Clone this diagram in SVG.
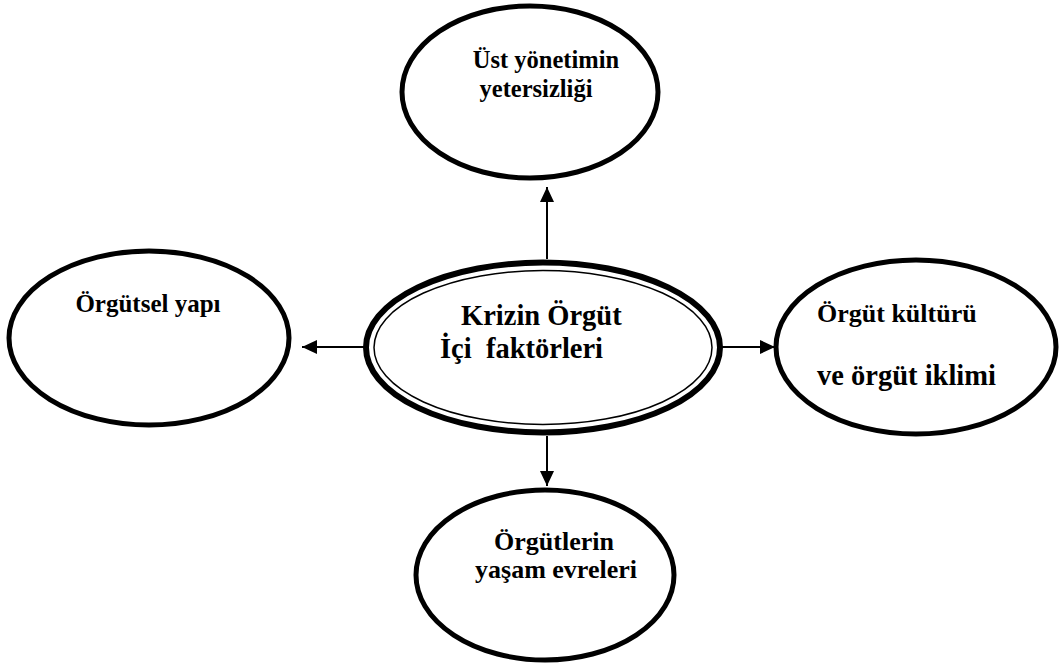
<svg xmlns="http://www.w3.org/2000/svg" width="1061" height="665" viewBox="0 0 1061 665">
<style>
.n{fill:#fff;stroke:#000;stroke-width:5}
text{font-family:'Liberation Serif','DejaVu Serif',serif;font-weight:700;fill:#000}
.c{stroke:#000;stroke-width:2;fill:none}
</style>
<defs>
<marker id="ah" viewBox="0 0 15 14" refX="15" refY="7" markerWidth="15" markerHeight="14" markerUnits="userSpaceOnUse" orient="auto">
<path d="M0,0 L15,7 L0,14 Z" fill="#000"/>
</marker>
</defs>
<rect width="1061" height="665" fill="#fff"/>
<g id="connectors">
<line class="c" x1="547" y1="259" x2="547" y2="187" marker-end="url(#ah)"/>
<line class="c" x1="364" y1="347" x2="302" y2="347" marker-end="url(#ah)"/>
<line class="c" x1="722" y1="347" x2="775" y2="347" marker-end="url(#ah)"/>
<line class="c" x1="547" y1="436" x2="547" y2="486" marker-end="url(#ah)"/>
</g>
<g id="center">
<ellipse cx="543" cy="347.5" rx="177" ry="85" fill="#fff" stroke="#000" stroke-width="6"/>
<ellipse cx="543" cy="347.5" rx="169" ry="77" fill="none" stroke="#000" stroke-width="1.5"/>
<text x="461" y="325" font-size="28.5">Krizin Örgüt</text>
<text x="440" y="358" font-size="28.5" xml:space="preserve">İçi  faktörleri</text>
</g>
<g id="top">
<ellipse class="n" cx="530" cy="92" rx="128" ry="86"/>
<text x="546" y="68" font-size="24.5" text-anchor="middle">Üst yönetimin</text>
<text x="536" y="97" font-size="24.5" text-anchor="middle">yetersizliği</text>
</g>
<g id="left">
<ellipse class="n" cx="149" cy="338" rx="140" ry="87"/>
<text x="148" y="312" font-size="25" text-anchor="middle">Örgütsel yapı</text>
</g>
<g id="right">
<ellipse class="n" cx="916" cy="347" rx="140" ry="87"/>
<text x="817" y="322" font-size="26">Örgüt kültürü</text>
<text x="817" y="385" font-size="28.5">ve örgüt iklimi</text>
</g>
<g id="bottom">
<ellipse class="n" cx="545" cy="575" rx="129" ry="85"/>
<text x="554" y="550" font-size="26" text-anchor="middle">Örgütlerin</text>
<text x="556" y="578" font-size="26" text-anchor="middle">yaşam evreleri</text>
</g>
</svg>
